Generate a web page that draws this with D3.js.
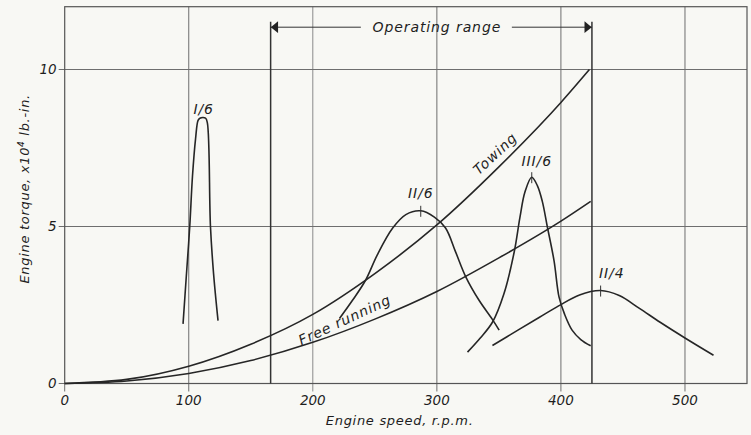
<!DOCTYPE html>
<html lang="en">
<head>
    <meta charset="UTF-8">
    <title>Engine torque vs engine speed</title>
    <script src="https://d3js.org/d3.v7.min.js"></script>
    <style>
        body { margin: 0; background: #f8f8f4; }
        svg {
            font-family: "DejaVu Sans", Verdana, sans-serif;
            font-style: italic;
            fill: #1e1e1e;
        }
        .frame { fill: none; stroke: #555; stroke-width: 1.2px; }
        .grid line { stroke: #6e6e6e; stroke-width: 1px; }
        .tick-label { font-size: 13.5px; }
        .axis-title { font-size: 13px; letter-spacing: 0.7px; }
        .curve { fill: none; stroke: #262626; stroke-width: 1.6px; }
        .range-line { stroke: #333; stroke-width: 1.5px; }
        .note { font-size: 14px; letter-spacing: 0.9px; }
    </style>
</head>
<body>
<div id="chart"></div>
<script>
    // axis ticks
    const xTicks = [0, 100, 200, 300, 400, 500];
    const yTicks = [0, 5, 10];

    // operating range limits (r.p.m.)
    const operatingRange = [166, 425];

    // torque curves, [rpm, torque x10^4 lb-in]
    const towing = [[0, 0], [50, 0.13], [100, 0.55], [150, 1.25], [200, 2.2], [250, 3.5],
        [300, 5.05], [350, 6.9], [400, 8.95], [423, 10.0]];
    const freeRunning = [[0, 0], [50, 0.08], [100, 0.32], [150, 0.73], [200, 1.31], [250, 2.05],
        [300, 2.93], [350, 4.0], [400, 5.17], [424, 5.8]];

    // resonance peaks
    const orderI6 = [[95.4, 1.9], [98, 3.4], [100.8, 5.0], [103, 6.6], [105.5, 7.8], [107.5, 8.38],
        [109, 8.45], [113.5, 8.45], [115, 8.3], [117.5, 5.0], [120, 3.5], [123.6, 2.0]];
    const orderII6 = [[221.5, 2.07], [232, 2.65], [242.4, 3.28], [252, 4.1], [264.4, 4.95], [275, 5.38],
        [287, 5.5], [298, 5.3], [307, 4.95], [315, 4.2], [323.4, 3.39], [334, 2.65], [344.6, 2.05], [350.2, 1.7]];
    const orderIII6 = [[324.7, 1.0], [335, 1.45], [344.8, 1.95], [354, 2.85], [362.3, 4.18], [367, 5.3],
        [371, 6.1], [376.5, 6.57], [381, 6.3], [385, 5.8], [389, 5.0], [394.5, 3.9], [398.5, 2.75],
        [403, 2.2], [409, 1.7], [416, 1.4], [424, 1.2]];
    const orderII4 = [[344.8, 1.21], [365, 1.69], [382.4, 2.1], [398.5, 2.48], [415, 2.82], [432, 2.96],
        [447, 2.8], [463, 2.4], [480, 1.95], [500, 1.45], [523, 0.9]];

    // peak tick marks (rpm, torque) for the orders
    const peakMarks = [[287, 5.5], [376.5, 6.57], [432, 2.96]];

    // curve labels: text, anchor point, rotation
    const labels = [
        { text: "I/6", at: [112, 8.72], rot: 0 },
        { text: "II/6", at: [287, 6.05], rot: 0 },
        { text: "III/6", at: [380.5, 7.05], rot: 0 },
        { text: "II/4", at: [441, 3.5], rot: 0 },
        { text: "Towing", at: [347.5, 7.3], rot: -43 },
        { text: "Free running", at: [226, 2.0], rot: -25 }
    ];

    const W = 751, H = 435;
    const margin = { top: 6.7, right: 4, bottom: 51.5, left: 64.7 };
    const width = W - margin.left - margin.right;
    const height = H - margin.top - margin.bottom;

    const svg = d3.select("#chart").append("svg")
        .attr("width", W)
        .attr("height", H);

    svg.append("rect").attr("width", W).attr("height", H).attr("fill", "#f8f8f4");

    const g = svg.append("g")
        .attr("transform", `translate(${margin.left},${margin.top})`);

    const x = d3.scaleLinear().domain([0, 550]).range([0, width]);
    const y = d3.scaleLinear().domain([0, 12]).range([height, 0]);

    // grid
    const grid = g.append("g").attr("class", "grid");
    grid.selectAll(".vg")
        .data(xTicks.filter(d => d > 0))
        .join("line")
        .attr("x1", d => x(d)).attr("x2", d => x(d))
        .attr("y1", 0).attr("y2", height + 8)
        .style("stroke", d => d === 200 ? "#8a8a8a" : null);
    grid.selectAll(".hg")
        .data(yTicks.filter(d => d > 0))
        .join("line")
        .attr("class", "hg")
        .attr("x1", -6).attr("x2", width)
        .attr("y1", d => y(d)).attr("y2", d => y(d));
    grid.append("line")
        .attr("x1", -6).attr("x2", 0)
        .attr("y1", y(0)).attr("y2", y(0));
    grid.append("line")
        .attr("x1", 0).attr("x2", 0)
        .attr("y1", height).attr("y2", height + 8);

    g.append("rect").attr("class", "frame")
        .attr("width", width).attr("height", height);

    // tick labels
    g.selectAll(".xl")
        .data(xTicks)
        .join("text")
        .attr("class", "tick-label")
        .attr("x", d => x(d))
        .attr("y", height + 22)
        .attr("text-anchor", "middle")
        .text(d => d);
    g.selectAll(".yl")
        .data(yTicks)
        .join("text")
        .attr("class", "tick-label")
        .attr("x", -8)
        .attr("y", d => y(d) + 5)
        .attr("text-anchor", "end")
        .text(d => d);

    // axis titles
    g.append("text")
        .attr("class", "axis-title")
        .attr("x", x(270))
        .attr("y", height + 42)
        .attr("text-anchor", "middle")
        .text("Engine speed, r.p.m.");

    const yt = g.append("text")
        .attr("class", "axis-title")
        .attr("transform", `translate(${-36},${y(6.2)}) rotate(-90)`)
        .attr("text-anchor", "middle");
    yt.append("tspan").text("Engine torque, x10");
    yt.append("tspan").attr("dy", -5).attr("font-size", "9px").text("4");
    yt.append("tspan").attr("dy", 5).text(" lb.-in.");

    // operating range
    const topY = 15;
    const arrowY = 20.5;
    g.selectAll(".range-line")
        .data(operatingRange)
        .join("line")
        .attr("class", "range-line")
        .attr("x1", d => x(d)).attr("x2", d => x(d))
        .attr("y1", topY).attr("y2", height);

    const midX = x(300);
    g.append("line").attr("class", "range-line").style("stroke-width", "1px")
        .attr("x1", x(operatingRange[0])).attr("x2", midX - 76)
        .attr("y1", arrowY).attr("y2", arrowY);
    g.append("line").attr("class", "range-line").style("stroke-width", "1px")
        .attr("x1", midX + 75).attr("x2", x(operatingRange[1]))
        .attr("y1", arrowY).attr("y2", arrowY);
    const arrow = d3.symbol().type(d3.symbolTriangle).size(30);
    g.append("path")
        .attr("d", arrow)
        .attr("transform", `translate(${x(operatingRange[0]) + 5},${arrowY}) rotate(-90) scale(1.4,1)`)
        .attr("fill", "#222");
    g.append("path")
        .attr("d", arrow)
        .attr("transform", `translate(${x(operatingRange[1]) - 5},${arrowY}) rotate(90) scale(1.4,1)`)
        .attr("fill", "#222");
    g.append("text")
        .attr("class", "note")
        .attr("x", midX)
        .attr("y", arrowY + 5)
        .attr("text-anchor", "middle")
        .text("Operating range");

    // curves
    const smooth = d3.line()
        .x(d => x(d[0]))
        .y(d => y(d[1]))
        .curve(d3.curveMonotoneX);
    const peak = d3.line()
        .x(d => x(d[0]))
        .y(d => y(d[1]))
        .curve(d3.curveCatmullRom.alpha(0.5));

    [towing, freeRunning].forEach(s => {
        g.append("path").attr("class", "curve").attr("d", smooth(s));
    });
    [orderI6, orderII6, orderIII6, orderII4].forEach(s => {
        g.append("path").attr("class", "curve").attr("d", peak(s));
    });

    g.selectAll(".peak-mark")
        .data(peakMarks)
        .join("line")
        .attr("stroke", "#333")
        .attr("stroke-width", 1)
        .attr("x1", d => x(d[0])).attr("x2", d => x(d[0]))
        .attr("y1", d => y(d[1]) - 5).attr("y2", d => y(d[1]) + 6);

    g.selectAll(".lbl")
        .data(labels)
        .join("text")
        .attr("class", "note")
        .attr("text-anchor", "middle")
        .attr("dominant-baseline", "middle")
        .attr("transform", d => `translate(${x(d.at[0])},${y(d.at[1])}) rotate(${d.rot})`)
        .text(d => d.text);
</script>
</body>
</html>
